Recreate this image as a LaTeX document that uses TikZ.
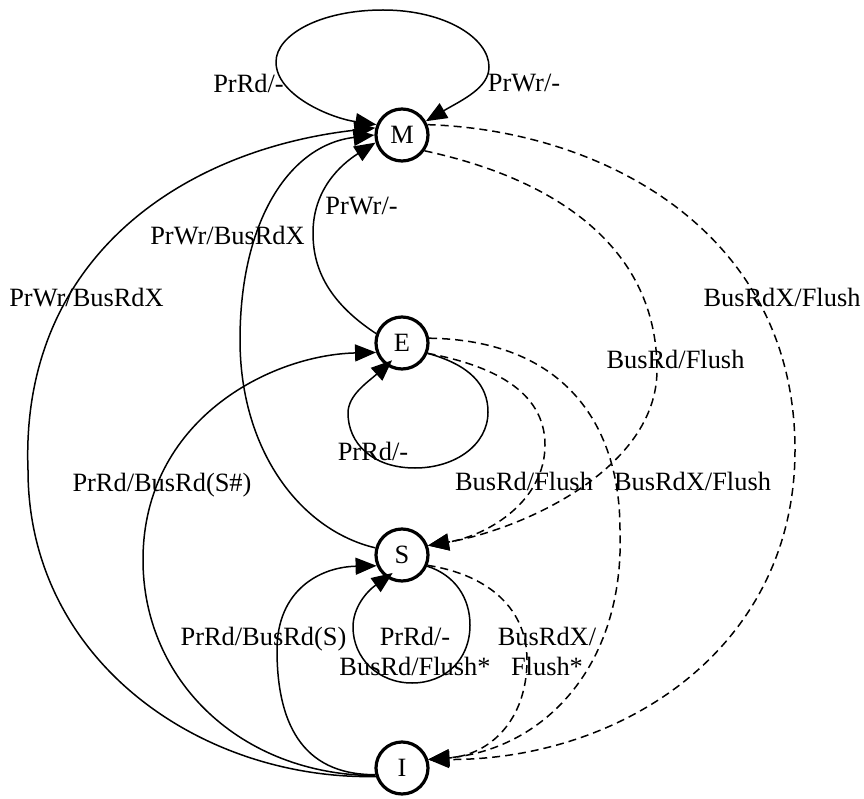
\documentclass[tikz,border=0pt]{standalone}
\usepackage{fontspec}
\setmainfont{Liberation Serif}
\usetikzlibrary{arrows.meta}
\begin{document}
\begin{tikzpicture}[x=1pt,y=-1pt,
  txt/.style={font=\fontsize{26.4}{30}\selectfont},
  state/.style={circle, draw, line width=3.2pt, minimum size=52pt, inner sep=0pt, txt},
  lbl/.style={inner sep=0pt, anchor=base, txt},
  tr/.style={line width=1.5pt, -{Triangle[length=21pt,width=17pt]}},
  bus/.style={tr, dash pattern=on 8pt off 5pt},
]
\useasboundingbox (0,0) rectangle (864,799);
\node[state] (M) at (402,135) {M};
\node[state] (E) at (402,343) {E};
\node[state] (S) at (402,555) {S};
\node[state] (I) at (402,768) {I};
\coordinate (Mtop) at (383,10);

% M self loops
\draw[tr] (Mtop) .. controls (320,10) and (276,35) .. (276,62) .. controls (276,95) and (330,118) .. (M.158);
\draw[tr] (Mtop) .. controls (445,10) and (489,38) .. (489,67) .. controls (489,88) and (462,100) .. (M.30);
% E -> M
\draw[tr] (E.160) .. controls (325,300) and (313,265) .. (313,233) .. controls (313,190) and (340,165) .. (M.196);
% S -> M
\draw[tr] (S.165) .. controls (300,530) and (240,450) .. (240,340) .. controls (240,220) and (290,145) .. (M.180);
% I -> M
\draw[tr] (I.198) .. controls (200,780) and (28,660) .. (28,470) .. controls (20,260) and (180,150) .. (M.165);
% I -> E
\draw[tr] (I.196) .. controls (240,775) and (143,680) .. (143,560) .. controls (143,420) and (270,355) .. (E.200);
% I -> S
\draw[tr] (I.194) .. controls (300,775) and (277,720) .. (277,650) .. controls (277,590) and (320,567) .. (S.203);
% E self loop
\draw[tr, shorten >=-8pt] (E.-22) .. controls (470,365) and (488,385) .. (488,412) .. controls (488,445) and (455,468) .. (415,468) .. controls (372,468) and (348,443) .. (348,413) .. controls (348,395) and (368,382) .. (E.235);
% S self loop
\draw[tr, shorten >=-8pt] (S.-24) .. controls (455,575) and (470,598) .. (470,625) .. controls (470,660) and (445,683) .. (412,683) .. controls (378,683) and (353,658) .. (353,627) .. controls (353,608) and (366,592) .. (S.235);
% dashed bus edges
\draw[bus] (M.-35) .. controls (560,180) and (657,250) .. (657,370) .. controls (657,470) and (520,530) .. (S.20);
\draw[bus] (M.22) .. controls (600,130) and (795,230) .. (795,450) .. controls (795,650) and (620,760) .. (I.18);
\draw[bus] (E.-22) .. controls (490,365) and (545,390) .. (545,445) .. controls (545,500) and (490,535) .. (S.20);
\draw[bus] (E.10) .. controls (560,340) and (620,420) .. (620,530) .. controls (625,670) and (540,750) .. (I.18);
\draw[bus] (S.-22) .. controls (490,575) and (527,610) .. (527,660) .. controls (527,720) and (490,755) .. (I.18);

% labels
\node[lbl] (l1) at (248.5,93) {PrRd/-};
\node[lbl] (l2) at (524,92) {PrWr/-};
\node[lbl] (l3) at (361.5,215) {PrWr/-};
\node[lbl] (l4) at (227.5,245) {PrWr/BusRdX};
\node[lbl] (l5) at (86.5,307) {PrWr/BusRdX};
\node[lbl] (l6) at (782,307) {BusRdX/Flush};
\node[lbl] (l7) at (675.5,368) {BusRd/Flush};
\node[lbl] (l8) at (373,460) {PrRd/-};
\node[lbl] (l9) at (162,491) {PrRd/BusRd(S\#)};
\node[lbl] (l10) at (524,490) {BusRd/Flush};
\node[lbl] (l11) at (692.5,490) {BusRdX/Flush};
\node[lbl] (l12) at (263.5,645) {PrRd/BusRd(S)};
\node[lbl, align=center] (l13) at (415,675) {PrRd/-\\BusRd/Flush*};
\node[lbl, align=center] (l14) at (547,675) {BusRdX/\\Flush*};
\end{tikzpicture}
\end{document}
